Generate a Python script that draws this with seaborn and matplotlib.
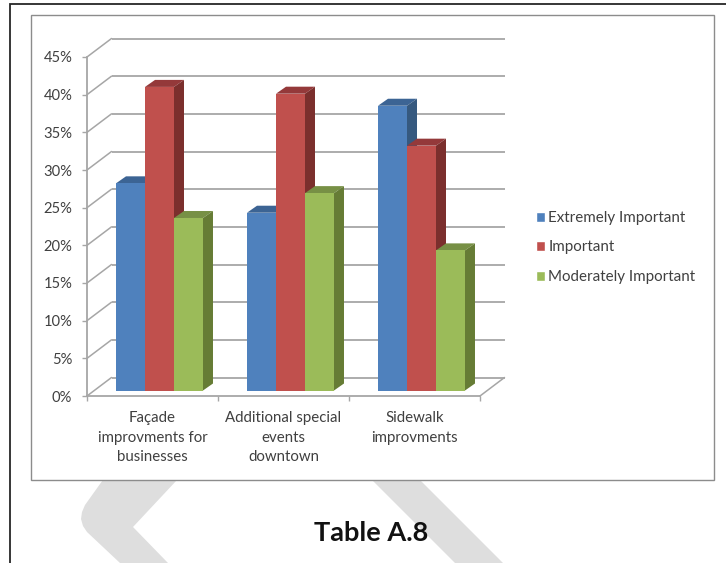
import matplotlib
matplotlib.use("Agg")
import matplotlib.pyplot as plt
import pandas as pd
import seaborn as sns
from matplotlib.patches import Polygon, Rectangle
from matplotlib.transforms import Affine2D, IdentityTransform

categories = ["Façade\nimprovments for\nbusinesses",
              "Additional special\nevents\ndowntown",
              "Sidewalk\nimprovments\n"]
extremely_important = [27.5, 23.6, 37.8]
important = [40.3, 39.4, 32.5]
moderately_important = [22.9, 26.2, 18.6]
series_names = ["Extremely Important", "Important", "Moderately Important"]
front_colors = ["#4f81bd", "#c0504d", "#9bbb59"]
side_colors = ["#36597f", "#7b2f2d", "#667c35"]
top_colors = ["#3c6494", "#94393a", "#779045"]
y_ticks = list(range(0, 50, 5))

W, H = 726, 563
GRID = "#a6a6a6"
INK = "#404040"

sns.set_theme(style="white")
plt.rcParams["font.family"] = ["Lato", "DejaVu Sans"]

fig = plt.figure(figsize=(W / 100, H / 100), dpi=100, facecolor="white")

# Page furniture: watermark, page frame, chart box and caption, in pixel units
page = fig.add_axes([0, 0, 1, 1], zorder=0)
page.set_xlim(0, W)
page.set_ylim(H, 0)
page.axis("off")
for outline in ([(110, 470), (85, 505), (82, 512), (81, 519), (83, 526), (87, 532),
                 (120, 563), (168, 563), (133, 527), (177, 480), (190, 470)],
                [(362, 470), (455, 563), (503, 563), (410, 470)]):
    page.add_patch(Polygon(outline, closed=True, fc="#dedede", ec="none"))
page.plot([10, 10, W], [H, 4, 4], color="#262626", lw=1.3, solid_joinstyle="miter")
page.add_patch(Rectangle((30.5, 14.5), 683, 465.5, fc="white", ec="#8c8c8c", lw=1.0))
page.text(371.5, 533, "Table A.8", ha="center", va="center",
          fontsize=19.5, fontweight="bold", color="#111111")

# Value axes: the front edge of the 3D floor
ax = fig.add_axes([87 / W, (H - 396) / H, 393 / W, 339 / H], zorder=1)
ax.patch.set_alpha(0)

table = pd.DataFrame({
    "category": categories * 3,
    "series": [n for n in series_names for _ in categories],
    "value": extremely_important + important + moderately_important,
})
sns.barplot(data=table, x="category", y="value", hue="series", order=categories,
            hue_order=series_names, palette=front_colors, saturation=1,
            width=0.664, gap=0, ax=ax)
ax.set_xlim(-0.5, 2.5)
ax.set_ylim(0, 45)
ax.set_xlabel("")
ax.set_ylabel("")

# Back wall: gridlines pushed up and right, joined to the axis by slanted lines
WALL_DX, WALL_DY = 24.5, 18.5
wall = ax.transData + Affine2D().translate(WALL_DX, WALL_DY)
ax.hlines(y_ticks, -0.5, 2.5, colors=GRID, lw=1.3, transform=wall, zorder=1, clip_on=False)
for tick in y_ticks:
    x0, y0 = ax.transData.transform((-0.5, tick))
    ax.plot([x0, x0 + WALL_DX], [y0, y0 + WALL_DY], color=GRID, lw=1.1, zorder=1,
            transform=IdentityTransform(), clip_on=False)
x1, y1 = ax.transData.transform((2.5, 0))
ax.plot([x1, x1 + WALL_DX], [y1, y1 + WALL_DY], color=GRID, lw=1.1, zorder=1,
        transform=IdentityTransform(), clip_on=False)

# Bars stand mid-floor; each one gets a shaded top and side
BAR_DX, BAR_DY = 7, 5.5
DEPTH_X, DEPTH_Y = 10, 7
bar_shift = ax.transData + Affine2D().translate(BAR_DX, BAR_DY)
for s, container in enumerate(ax.containers):
    for bar in container:
        bar.set_transform(bar_shift)
        bar.set_clip_on(False)
        bar.set_edgecolor("none")
        bar.set_zorder(3 + 2 * s + 1)
        left, right = bar.get_x(), bar.get_x() + bar.get_width()
        (xl, yb), (xr, yt) = bar_shift.transform([(left, 0), (right, bar.get_height())])
        top = [(xl, yt), (xr, yt), (xr + DEPTH_X, yt + DEPTH_Y), (xl + DEPTH_X, yt + DEPTH_Y)]
        side = [(xr, yb), (xr + DEPTH_X, yb + DEPTH_Y), (xr + DEPTH_X, yt + DEPTH_Y), (xr, yt)]
        for shape, color in ((top, top_colors[s]), (side, side_colors[s])):
            ax.add_patch(Polygon(shape, closed=True, fc=color, ec="none", clip_on=False,
                                 transform=IdentityTransform(), zorder=3 + 2 * s))

# Axes lines, ticks and labels
sns.despine(ax=ax)
for name in ("left", "bottom"):
    ax.spines[name].set_color(GRID)
    ax.spines[name].set_linewidth(1.3)
    ax.spines[name].set_zorder(2)
ax.set_yticks(y_ticks, [f"{t}%" for t in y_ticks])
ax.set_xticks([-0.5, 0.5, 1.5, 2.5], minor=True)
ax.tick_params(axis="y", length=3.6, width=1.0, color=GRID, pad=7, labelsize=10.6,
               labelcolor=INK, left=True)
ax.tick_params(axis="x", which="major", length=0, pad=11, labelsize=10.8, labelcolor=INK)
ax.tick_params(axis="x", which="minor", length=3.6, width=1.0, color=GRID, bottom=True)
for label in ax.get_xticklabels():
    label.set_linespacing(1.5)
    label.set_ha("center")

sns.move_legend(ax, "center left", bbox_to_anchor=(536 / W, 1 - 247.5 / H),
                bbox_transform=fig.transFigure, frameon=False, title=None,
                fontsize=10.9, handlelength=0.62, handleheight=0.62, handletextpad=0.2,
                labelspacing=1.02, borderpad=0, borderaxespad=0)
for text in ax.get_legend().get_texts():
    text.set_color(INK)

fig.savefig("out.png", dpi=100, facecolor="white")
